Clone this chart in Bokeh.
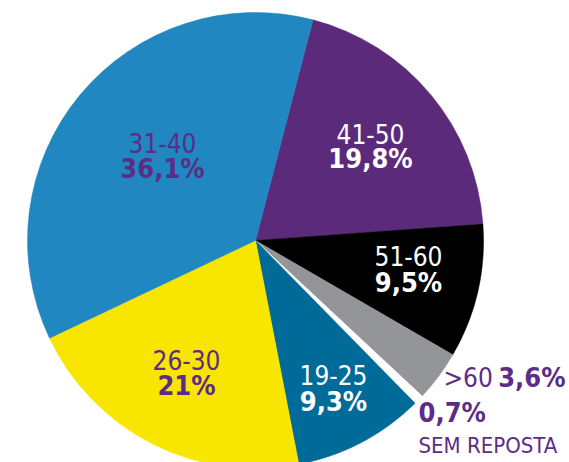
import math
from bokeh.plotting import figure
from bokeh.models import Range1d, ColumnDataSource
from bokeh.core.properties import value
from bokeh.embed import file_html
from bokeh.resources import INLINE

# ---- data (clockwise from the top) ----
categories = ["41-50", "51-60", ">60", "SEM REPOSTA", "19-25", "26-30", "31-40"]
shares = [19.8, 9.5, 3.6, 0.7, 9.3, 21.0, 36.1]
share_labels = ["19,8%", "9,5%", "3,6%", "0,7%", "9,3%", "21%", "36,1%"]
colors = ["#5c2a7a", "#000000", "#939598", "#ffffff", "#006b99", "#f8e600", "#2087c0"]

FONT = "DejaVu Sans Condensed"
PURPLE = "#5b2d86"

W, H = 569, 462
p = figure(width=W, height=H, output_backend="svg", toolbar_location=None,
           x_range=Range1d(0, W), y_range=Range1d(-H, 0),
           min_border=0)
p.axis.visible = False
p.grid.visible = False
p.outline_line_color = None
p.background_fill_color = "white"
p.border_fill_color = "white"

cx, cy, r = 255, -240, 228
offset = 14.6  # degrees clockwise from 12 o'clock where the first slice starts
total = sum(shares)
starts, ends = [], []
acc = offset
for s in shares:
    a0 = acc
    a1 = acc + s / total * 360.0
    starts.append(math.radians(90 - a0))
    ends.append(math.radians(90 - a1))
    acc = a1

src = ColumnDataSource(dict(start=starts, end=ends, color=colors, cat=categories))
p.wedge(x=cx, y=cy, radius=r, start_angle="start", end_angle="end",
        direction="clock", fill_color="color", line_color="color", line_width=0.5,
        source=src)

# ---- labels inside slices ----
inside = {
    "41-50": (370, 133, 158, "white"),
    "51-60": (408, 255, 282, "white"),
    "19-25": (333, 374, 401, "white"),
    "26-30": (186, 359, 385, PURPLE),
    "31-40": (162, 142, 168, PURPLE),
}
for cat, lab in zip(categories, share_labels):
    if cat in inside:
        x, y1, y2, col = inside[cat]
        p.text(x=[x], y=[-y1], text=[cat], text_font=value(FONT), text_font_size="26px",
               text_align="center", text_baseline="middle", text_color=col)
        p.text(x=[x], y=[-y2], text=[lab], text_font=value(FONT), text_font_size="27px",
               text_font_style="bold", text_align="center", text_baseline="middle",
               text_color=col)

# ---- outside labels ----
p.text(x=[443], y=[-377], text=[categories[2]], text_font=value(FONT), text_font_size="26px",
       text_align="left", text_baseline="middle", text_color=PURPLE)
p.text(x=[565], y=[-377], text=[share_labels[2]], text_font=value(FONT), text_font_size="27px",
       text_font_style="bold", text_align="right", text_baseline="middle", text_color=PURPLE)
p.text(x=[418], y=[-412], text=[share_labels[3]], text_font=value(FONT), text_font_size="27px",
       text_font_style="bold", text_align="left", text_baseline="middle", text_color=PURPLE)
p.text(x=[418], y=[-445], text=[categories[3]], text_font=value(FONT), text_font_size="22px",
       text_align="left", text_baseline="middle", text_color=PURPLE)

open("out.html", "w").write(file_html(p, INLINE))
